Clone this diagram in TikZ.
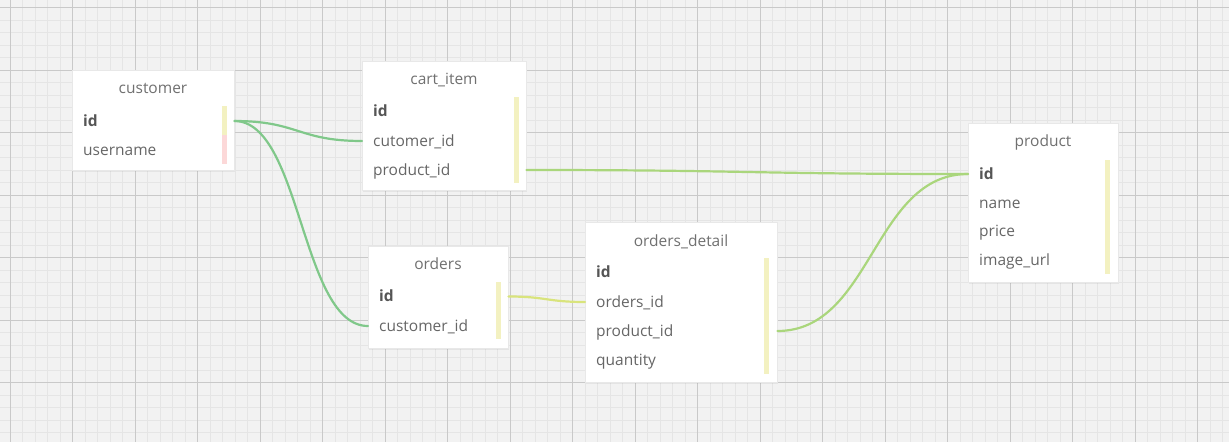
\documentclass[tikz,border=0pt]{standalone}
\usepackage{fontspec}
\setmainfont{Open Sans}
\usepackage{tikz}
\usetikzlibrary{shadows}

\definecolor{GridBg}{HTML}{F2F2F2}
\definecolor{GridMinor}{HTML}{E5E5E5}
\definecolor{GridMajor}{HTML}{C9C9C9}
\definecolor{KeyBar}{HTML}{F3F1C1}
\definecolor{NameBar}{HTML}{FCD8D8}
\definecolor{TitleGray}{HTML}{707070}
\definecolor{FieldGray}{HTML}{666666}
\definecolor{IdGray}{HTML}{555555}
\definecolor{RelGreen}{HTML}{80C88A}
\definecolor{RelLime}{HTML}{AAD67C}
\definecolor{RelYellow}{HTML}{D9E47C}

\tikzset{
  tbl/.style={anchor=north west,fill=white,draw=black!9,line width=0.6pt,inner sep=0pt,
    drop shadow={opacity=0.12,shadow xshift=1pt,shadow yshift=-1.5pt}},
  title/.style={anchor=base,inner sep=0pt,text=TitleGray,font=\fontsize{15.5}{17}\selectfont},
  field/.style={anchor=base west,inner xsep=11pt,inner ysep=0pt,text height=10pt,text depth=0pt,
    align=left,text=FieldGray,font=\fontsize{15.5}{17}\selectfont},
  keyfield/.style={field,text=IdGray,font=\fontsize{15.5}{17}\selectfont\bfseries},
  rel/.style={line width=2.2pt,line cap=round}
}

\begin{document}
\begin{tikzpicture}[x=1pt,y=-1pt]
\useasboundingbox (0,0) rectangle (1229,442);
%background grid
\fill[GridBg] (0,0) rectangle (1229,442);
\foreach \x in {-2.5,10,...,1235}
\draw[GridMinor,line width=1pt] (\x,0) -- (\x,442);
\foreach \y in {-5,7.5,...,445}
\draw[GridMinor,line width=1pt] (0,\y) -- (1229,\y);
\foreach \x in {10,72.5,...,1235}
\draw[GridMajor,line width=1pt] (\x,0) -- (\x,442);
\foreach \y in {7.5,70,...,445}
\draw[GridMajor,line width=1pt] (0,\y) -- (1229,\y);

%customer
\node[tbl,minimum width=162pt,minimum height=100pt] (customer) at (72,70) {};
\node[title] at (153,93) {customer};
\node[keyfield,text width=140pt] (customer-id) at (72,126) {id};
\node[field,text width=140pt] (customer-name) at (72,155) {username};
\fill[KeyBar] (222,106) rectangle (227,135);
\fill[NameBar] (222,135) rectangle (227,164);

%cart_item
\node[tbl,minimum width=164pt,minimum height=129pt] (cart) at (362,61) {};
\node[title] at (444,84) {cart\_item};
\node[keyfield,text width=142pt] (cart-id) at (362,116.5) {id};
\node[field,text width=142pt] (cart-cust) at (362,146) {cutomer\_id};
\node[field,text width=142pt] (cart-prod) at (362,175) {product\_id};
\fill[KeyBar] (514,97) rectangle (519,183);

%orders
\node[tbl,minimum width=140pt,minimum height=102pt] (orders) at (368,246) {};
\node[title] at (438,269) {orders};
\node[keyfield,text width=118pt] (orders-id) at (368,301.5) {id};
\node[field,text width=118pt] (orders-cust) at (368,331) {customer\_id};
\fill[KeyBar] (496,282) rectangle (501,339);

%orders_detail
\node[tbl,minimum width=192pt,minimum height=160pt] (detail) at (585,222) {};
\node[title] at (681,246) {orders\_detail};
\node[keyfield,text width=170pt] (detail-id) at (585,277) {id};
\node[field,text width=170pt] (detail-order) at (585,307) {orders\_id};
\node[field,text width=170pt] (detail-prod) at (585,336) {product\_id};
\node[field,text width=170pt] (detail-qty) at (585,365) {quantity};
\fill[KeyBar] (764,258) rectangle (769,374);

%product
\node[tbl,minimum width=150pt,minimum height=159pt] (product) at (968,123) {};
\node[title] at (1043,146.5) {product};
\node[keyfield,text width=128pt] (product-id) at (968,179) {id};
\node[field,text width=128pt] (product-name) at (968,208) {name};
\node[field,text width=128pt] (product-price) at (968,236.5) {price};
\node[field,text width=128pt] (product-img) at (968,265.5) {image\_url};
\fill[KeyBar] (1105,160) rectangle (1110,274);

%relations
\draw[rel,RelGreen] (customer-id.east) .. controls +(64,0) and +(-64,0) .. (cart-cust.west);
\draw[rel,RelGreen] (customer-id.east) .. controls +(67,0) and +(-67,0) .. (orders-cust.west);
\draw[rel,RelLime] (cart-prod.east) .. controls +(221,0) and +(-221,0) .. (product-id.west);
\draw[rel,RelYellow] (orders-id.east) .. controls +(38,0) and +(-38,0) .. (detail-order.west);
\draw[rel,RelLime] (detail-prod.east) .. controls +(95,0) and +(-95,0) .. (product-id.west);
\end{tikzpicture}
\end{document}
